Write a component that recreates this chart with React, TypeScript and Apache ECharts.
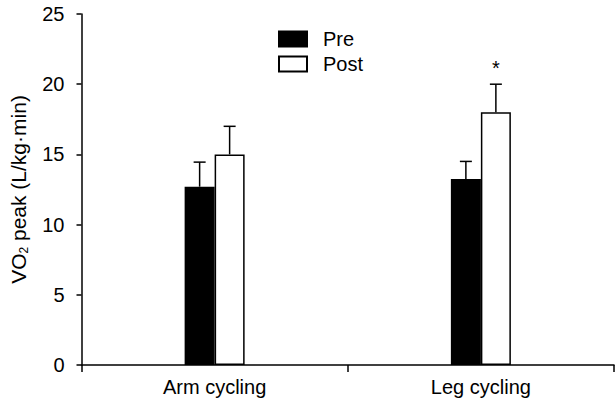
import React, { useEffect, useRef } from "react";
import * as echarts from "echarts";

const categories = ["Arm cycling", "Leg cycling"];
const preMean = [12.7, 13.25];
const preErr = [1.75, 1.25];
const postMean = [15.0, 18.0];
const postErr = [2.0, 2.0];
const postSig = ["", "*"];
const yTicks = [0, 5, 10, 15, 20, 25];

const FONT = "'Liberation Sans', Arial, sans-serif";
const BAR_W = 30;

function errSeries(name: string, means: number[], errs: number[], offset: number, sig?: string[]) {
  return {
    name: name + "-err",
    type: "custom",
    silent: true,
    z: 5,
    data: means.map((m, i) => [i, m, m + errs[i]]),
    renderItem: (params: any, api: any) => {
      const i = api.value(0);
      const base = api.coord([i, api.value(1)]);
      const top = api.coord([i, api.value(2)]);
      const x = base[0] + offset;
      const children: any[] = [
        { type: "line", shape: { x1: x, y1: base[1], x2: x, y2: top[1] }, style: { stroke: "#000", lineWidth: 1.5 } },
        { type: "line", shape: { x1: x - 6, y1: top[1], x2: x + 6, y2: top[1] }, style: { stroke: "#000", lineWidth: 1.5 } },
      ];
      const s = sig ? sig[params.dataIndex] : "";
      if (s) {
        children.push({
          type: "text",
          style: { text: s, x: x, y: top[1] - 16, align: "center", verticalAlign: "middle", font: `20px ${FONT}`, fill: "#000" },
        });
      }
      return { type: "group", children };
    },
  };
}

export default function App() {
  const ref = useRef<HTMLDivElement>(null);
  useEffect(() => {
    document.body.style.margin = "0";
    const chart = echarts.init(ref.current!, null, { renderer: "svg" });
    chart.setOption({
      animation: false,
      backgroundColor: "#fff",
      textStyle: { fontFamily: FONT },
      grid: { left: 81, right: 2, top: 14, bottom: 38 },
      legend: {
        orient: "vertical",
        left: 273,
        top: 24,
        icon: "rect",
        itemWidth: 28,
        itemHeight: 15,
        itemGap: 5,
        data: ["Pre", "Post"],
        textStyle: { fontSize: 20, lineHeight: 20, color: "#000", fontFamily: FONT, padding: [0, 0, 0, 11] },
      },
      xAxis: {
        type: "category",
        data: categories,
        axisLine: { lineStyle: { color: "#000", width: 1.5 } },
        axisTick: { show: true, inside: false, length: 7, lineStyle: { color: "#000", width: 1.5 } },
        axisLabel: { color: "#000", fontSize: 20, margin: 12, fontFamily: FONT },
      },
      yAxis: {
        type: "value",
        min: 0,
        max: 25,
        interval: 5,
        splitLine: { show: false },
        axisLine: { show: true, lineStyle: { color: "#000", width: 1.5 } },
        axisTick: { show: true, length: 5, lineStyle: { color: "#000", width: 1.5 } },
        axisLabel: {
          color: "#000",
          fontSize: 20,
          margin: 17,
          fontFamily: FONT,
          formatter: (v: number) => (yTicks.includes(v) ? String(v) : ""),
        },
        name: "VO{sub|2} peak (L/kg·min)",
        nameLocation: "middle",
        nameGap: 52,
        nameRotate: 90,
        nameTextStyle: {
          color: "#000",
          fontSize: 21,
          fontFamily: FONT,
          rich: { sub: { fontSize: 12, color: "#000", fontFamily: FONT, padding: [10, 0, 0, 0] } },
        },
      },
      series: [
        {
          name: "Pre",
          type: "bar",
          data: preMean,
          barWidth: BAR_W,
          barGap: "0%",
          itemStyle: { color: "#000", borderColor: "#000", borderWidth: 1.5 },
        },
        {
          name: "Post",
          type: "bar",
          data: postMean,
          barWidth: BAR_W,
          barGap: "0%",
          itemStyle: { color: "#fff", borderColor: "#000", borderWidth: 1.5 },
        },
        errSeries("Pre", preMean, preErr, -BAR_W / 2),
        errSeries("Post", postMean, postErr, BAR_W / 2, postSig),
      ],
    });
    return () => chart.dispose();
  }, []);
  return <div ref={ref} style={{ width: 616, height: 403 }} />;
}
